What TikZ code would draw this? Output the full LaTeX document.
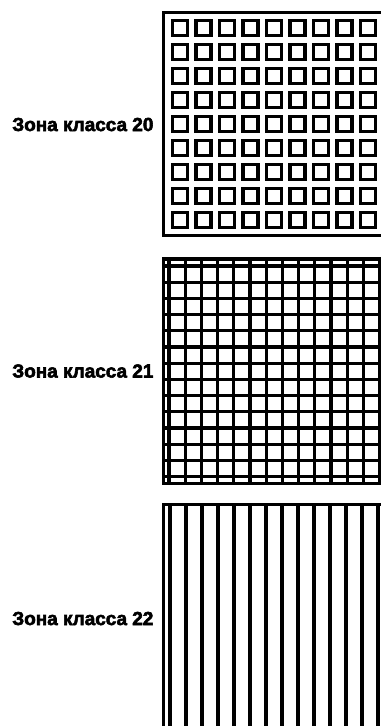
\documentclass[tikz,border=0pt]{standalone}
\usepackage{fontspec}
\setmainfont{Liberation Sans}
\newfontfamily\zonefont[FakeBold=3]{Liberation Sans Bold}
\usetikzlibrary{positioning}

\begin{document}
\begin{tikzpicture}[
    x=0.75pt,
    y=-0.75pt,
    frame/.style={draw=black, line width=2.4pt},
    cellbox/.style={draw=black, line width=2.4pt},
    gridline/.style={draw=black, line width=2.5pt},
    zone/.style={inner sep=0pt, font=\zonefont\fontsize{14.2}{17}\selectfont}
]

    % Page frame (the boxes run off the right and bottom edges)
    \useasboundingbox (0,0) rectangle (381,726);
    \clip (0,0) rectangle (381,726);
    \fill[white] (0,0) rectangle (381,726);

    % Anchors at the left side of each box
    \coordinate (f20) at (163.7,124.5);
    \coordinate (f21) at (163.7,371);
    \coordinate (f22) at (163.7,618.5);

    % Zone class 20: open squares
    \draw[frame] (395,12.8) -- (163.7,12.8) -- (163.7,235.8) -- (395,235.8);
    \foreach \i in {0,...,8} {
        \foreach \j in {0,...,8} {
            \draw[cellbox] ({172.5+23.5*\i},{20.8+24*\j}) rectangle ++(15,15);
        }
    }

    % Zone class 21: square grid
    \draw[frame] (395,259) -- (163.7,259) -- (163.7,483.5) -- (395,483.5);
    \foreach \k in {0,...,13} {
        \draw[gridline] ({169+16.2*\k},259) -- ({169+16.2*\k},483.5);
        \draw[gridline] (163.7,{266+16.2*\k}) -- (395,{266+16.2*\k});
    }

    % Zone class 22: vertical lines
    \draw[frame, line width=2pt] (395,504.7) -- (163.7,504.7) -- (163.7,740);
    \foreach \k in {0,...,13} {
        \draw[gridline] ({170+16*\k},504.7) -- ({170+16*\k},740);
    }

    % Labels
    \node[zone, left=7.5pt of f20] (lab20) {Зона класса 20};
    \node[zone, left=7.5pt of f21] (lab21) {Зона класса 21};
    \node[zone, left=7.5pt of f22] (lab22) {Зона класса 22};

\end{tikzpicture}
\end{document}
